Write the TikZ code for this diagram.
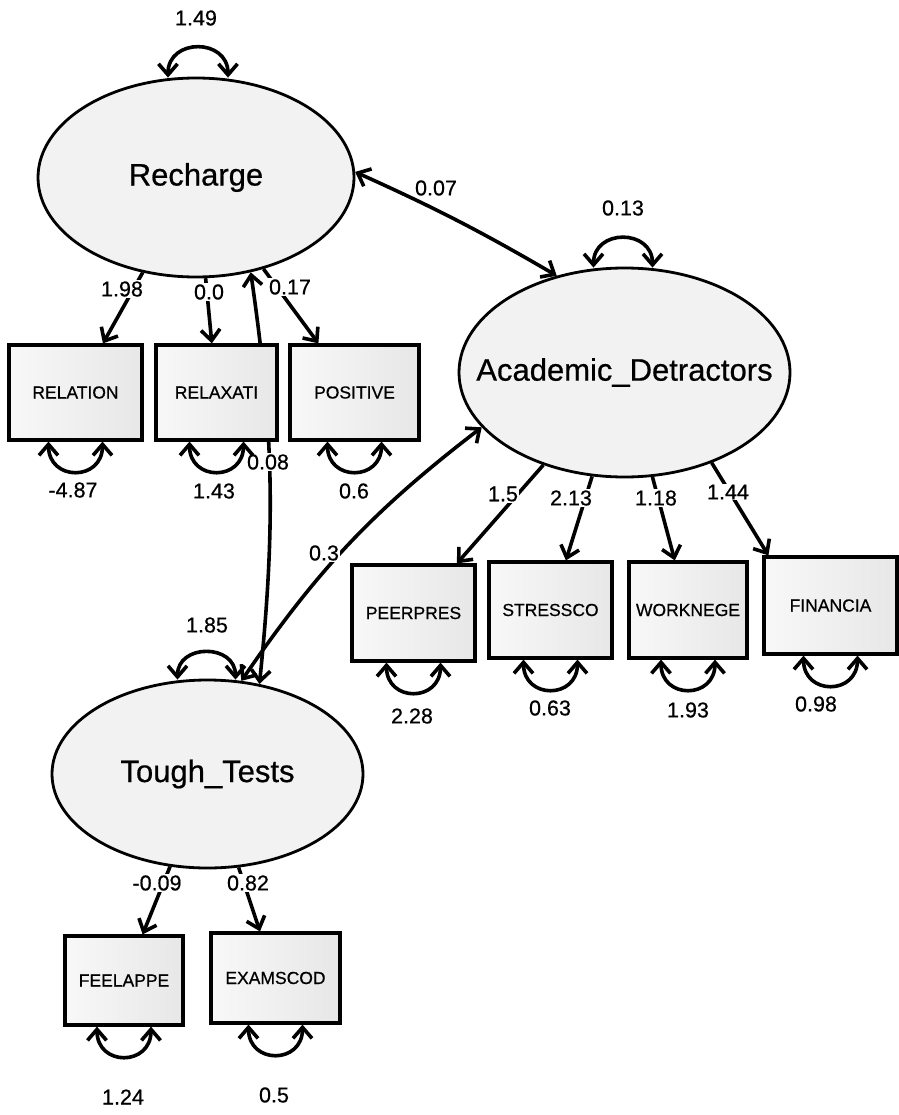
\documentclass[tikz,border=0pt]{standalone}
\usepackage{fontspec}
\setmainfont{Liberation Sans}[FakeBold=0.6]
\newfontfamily\heavyfont{Liberation Sans}[FakeBold=0.6]
\usetikzlibrary{arrows.meta,shapes.geometric,calc}
\definecolor{latfill}{RGB}{242,242,242}
\definecolor{obsleft}{RGB}{248,248,248}
\definecolor{obsright}{RGB}{231,231,231}
\tikzset{
  latent/.style={ellipse, draw=black, line width=2.8pt, fill=latfill, inner sep=0pt,
    font=\heavyfont\fontsize{31}{31}\selectfont},
  obs/.style={rectangle, draw=black, line width=3.2pt, left color=obsleft, right color=obsright,
    inner sep=0pt, font=\heavyfont\fontsize{17.5}{17.5}\selectfont},
  load/.style={line width=3.6pt, -{Straight Barb[length=11pt,width=19pt]}},
  cov/.style={line width=3.6pt, {Straight Barb[length=11pt,width=19pt]}-{Straight Barb[length=11pt,width=19pt]}},
  lab/.style={fill=white, inner sep=1pt, font=\heavyfont\fontsize{21.5}{21.5}\selectfont},
  num/.style={inner sep=0pt, font=\heavyfont\fontsize{21.5}{21.5}\selectfont},
}
\begin{document}
\begin{tikzpicture}[x=1pt,y=1pt]
\useasboundingbox (0,0) rectangle (898,-1115);

% latent variables
\node[latent, minimum width=316pt, minimum height=199pt] (R) at (196,-177.5) {\makebox[0pt]{Recharge}};
\node[latent, minimum width=331pt, minimum height=209pt] (A) at (624.5,-372.5) {\makebox[0pt]{Academic\_Detractors}};
\node[latent, minimum width=311pt, minimum height=188pt] (TT) at (207.5,-774) {\makebox[0pt]{Tough\_Tests}};

% covariance Tough_Tests <-> Recharge (passes behind RELAXATI)
\draw[cov] (TT.60) to[bend right=7] (R.-60);
\node[lab] (l008) at (268,-462) {0.08};

% observed variables
\node[obs, minimum width=133pt, minimum height=95pt] (RELATION) at (75.5,-392.5) {RELATION};
\node[obs, minimum width=121pt, minimum height=95pt] (RELAXATI) at (216.5,-392.5) {RELAXATI};
\node[obs, minimum width=129pt, minimum height=95pt] (POSITIVE) at (354.5,-392.5) {POSITIVE};
\node[obs, minimum width=123pt, minimum height=96pt] (PEERPRES) at (413.5,-613) {PEERPRES};
\node[obs, minimum width=123pt, minimum height=96pt] (STRESSCO) at (550.5,-610) {STRESSCO};
\node[obs, minimum width=118pt, minimum height=96pt] (WORKNEGE) at (688,-610) {WORKNEGE};
\node[obs, minimum width=133pt, minimum height=97pt] (FINANCIA) at (830.5,-605.5) {FINANCIA};
\node[obs, minimum width=118pt, minimum height=89pt] (FEELAPPE) at (124,-980.5) {FEELAPPE};
\node[obs, minimum width=129pt, minimum height=90pt] (EXAMSCOD) at (275.5,-978) {EXAMSCOD};

% covariances between latents
\draw[cov] (R.2) to[bend left=3] (A.125);
\draw[cov] (TT.70) to[bend left=9] (A.-159);

% loadings
\draw[load] (R) -- (RELATION);
\draw[load] (R) -- (RELAXATI);
\draw[load] (R) -- (POSITIVE);
\draw[load] (A) -- (PEERPRES);
\draw[load] (A) -- (STRESSCO);
\draw[load] (A) -- (WORKNEGE);
\draw[load] (A.-46) -- ([xshift=6pt]FINANCIA.north west);
\draw[load] (TT) -- (FEELAPPE);
\draw[load] (TT) -- (EXAMSCOD);

% variance loops on latents
\draw[cov] ([xshift=-28pt,yshift=-1pt]R.north) to[out=90,in=90,looseness=1.7] ([xshift=32pt,yshift=-1pt]R.north);
\draw[cov] ([xshift=-31pt,yshift=-1pt]A.north) to[out=90,in=90,looseness=1.7] ([xshift=28pt,yshift=-1pt]A.north);
\draw[cov] ([xshift=-30pt,yshift=-1pt]TT.north) to[out=90,in=90,looseness=1.6] ([xshift=28pt,yshift=-1pt]TT.north);

% error loops on observed
\foreach \n in {RELATION,RELAXATI,POSITIVE,PEERPRES,STRESSCO,WORKNEGE,FINANCIA,FEELAPPE,EXAMSCOD}{
  \draw[cov] ([xshift=-27pt]\n.south) to[out=-90,in=-90,looseness=1.9] ([xshift=27pt]\n.south);
}

% labels on paths
\node[lab] (l198) at (122,-289) {1.98};
\node[lab] (l00) at (209,-292) {0.0};
\node[lab] (l017) at (290,-287) {0.17};
\node[lab] (l15) at (503,-494) {1.5};
\node[lab] (l213) at (571,-498) {2.13};
\node[lab] (l118) at (656,-498) {1.18};
\node[lab] (l144) at (728,-492) {1.44};
\node[lab] (lm009) at (157,-883) {-0.09};
\node[lab] (l082) at (248,-883) {0.82};
\node[lab] (l03) at (324,-553) {0.3};
\node[num] (l007) at (436,-188) {0.07};

% variance values
\node[num] (v149) at (196,-18) {1.49};
\node[num] (v013) at (623,-208) {0.13};
\node[num] (v185) at (207,-625) {1.85};
\node[num] (v487) at (73,-490) {-4.87};
\node[num] (v143) at (214,-491) {1.43};
\node[num] (v06) at (354,-491) {0.6};
\node[num] (v228) at (412,-716) {2.28};
\node[num] (v063) at (550,-708) {0.63};
\node[num] (v193) at (688,-710) {1.93};
\node[num] (v098) at (816,-704) {0.98};
\node[num] (v124) at (123,-1097) {1.24};
\node[num] (v05) at (274,-1095) {0.5};
\end{tikzpicture}
\end{document}
